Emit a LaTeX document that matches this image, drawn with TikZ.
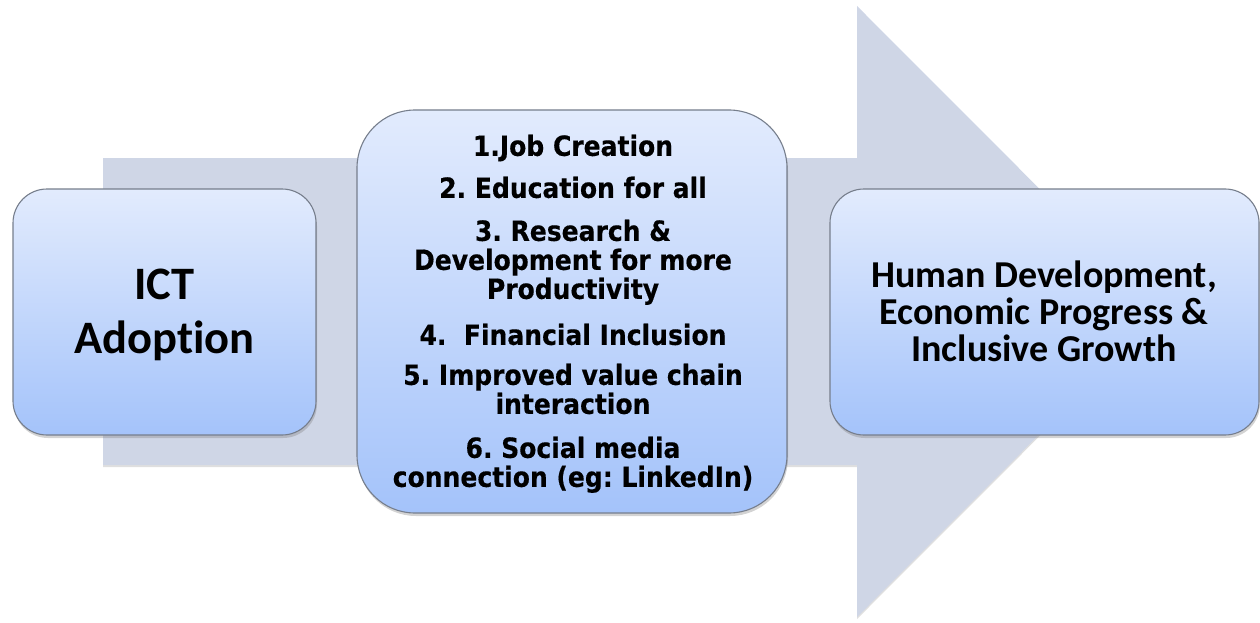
\documentclass[tikz,border=0pt]{standalone}
\usepackage{fontspec}
\usetikzlibrary{shadows}
\newfontfamily\calfont[Ligatures=NoCommon]{Carlito}
\newfontfamily\midfont[FakeStretch=0.9, BoldFeatures={FakeBold=0.4}]{DejaVu Sans}
\definecolor{arrowfill}{RGB}{207,214,230}
\definecolor{boxtop}{RGB}{226,235,253}
\definecolor{boxbot}{RGB}{164,195,250}
\definecolor{boxline}{RGB}{118,126,140}
\tikzset{
  bigarrow/.style={fill=arrowfill, draw=none,
    drop shadow={shadow xshift=0pt, shadow yshift=-2pt, opacity=0.25}},
  stepbox/.style={rectangle, draw=boxline, line width=1.1pt,
    top color=boxtop, bottom color=boxbot, inner sep=0pt,
    drop shadow={shadow xshift=1pt, shadow yshift=-3pt, opacity=0.35}},
  boxtext/.style={inner sep=0pt, align=center, text=black}
}
\begin{document}
\frenchspacing
\begin{tikzpicture}[x=1pt,y=-1pt]
\useasboundingbox (0,0) rectangle (1260,623);
% big arrow
\coordinate (a1) at (103,158);
\coordinate (a2) at (857,158);
\coordinate (a3) at (857,6);
\coordinate (a4) at (1162,311.5);
\coordinate (a5) at (857,617);
\coordinate (a6) at (857,465);
\coordinate (a7) at (103,465);
\path[bigarrow] (a1) -- (a2) -- (a3) -- (a4) -- (a5) -- (a6) -- (a7) -- cycle;
% boxes
\node[stepbox, rounded corners=34pt, minimum width=303pt, minimum height=246pt] (ict) at (164.5,312) {};
\node[stepbox, rounded corners=58pt, minimum width=430pt, minimum height=403pt] (mid) at (572,311.5) {};
\node[stepbox, rounded corners=34pt, minimum width=429pt, minimum height=246pt] (out) at (1044.5,312) {};
% texts
\node[boxtext, font=\calfont\bfseries\fontsize{46.5}{54}\selectfont] (ictT) at (164.5,314.5) {ICT\\Adoption};
\node[boxtext, font=\midfont\bfseries\fontsize{27.8}{29}\selectfont] (midT) at (573,313.8)
  {1.Job Creation\\[13pt]
   2. Education for all\\[14pt]
   3. Research \&\\
   Development for more\\
   Productivity\\[17pt]
   4.\ \ Financial Inclusion\\[11pt]
   5. Improved value chain\\
   interaction\\[15pt]
   6. Social media\\
   connection (eg: LinkedIn)};
\node[boxtext, font=\calfont\bfseries\fontsize{38}{37}\selectfont] (outT) at (1044,311)
  {Human Development,\\Economic Progress \&\\Inclusive Growth};
\end{tikzpicture}
\end{document}
